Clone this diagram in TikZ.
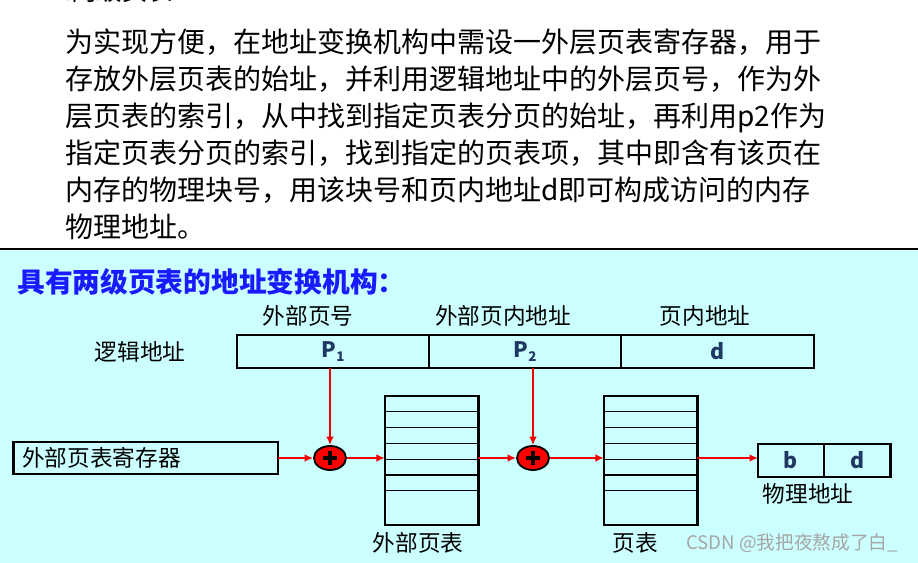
\documentclass[tikz,border=0pt]{standalone}
\usepackage{fontspec}
\setmainfont{Noto Sans CJK SC}
\usepackage{tikz}
\usetikzlibrary{arrows.meta,positioning,shapes.geometric}
\definecolor{panel}{RGB}{204,255,255}
\definecolor{heading}{RGB}{26,26,255}
\definecolor{field}{RGB}{31,56,100}
\definecolor{link}{RGB}{240,0,0}
\definecolor{mark}{RGB}{165,165,165}
\newcommand{\sub}[1]{\raisebox{-0.3ex}{\fontsize{10}{10}\selectfont #1}}

\begin{document}
\begin{tikzpicture}[x=0.75pt, y=-0.75pt,
  cell/.style={draw, line width=2pt, inner sep=0pt, outer sep=0pt,
               minimum height=24.75pt, font=\fontsize{16}{16}\selectfont\bfseries, text=field},
  ptable/.style={draw, line width=2pt, inner sep=0pt, outer sep=0pt,
                 minimum width=70pt, minimum height=96.75pt},
  row/.style={line width=1pt},
  adder/.style={ellipse, draw, line width=1.4pt, fill=red, minimum width=24pt,
                minimum height=18pt, inner sep=0pt},
  arrow/.style={-{Latex[length=2.2mm, width=2mm]}, line width=1.4pt, color=link},
  lbl/.style={font=\fontsize{17}{17}\selectfont, inner sep=0pt}]
  \useasboundingbox (0,0) rectangle (918,563);
  \fill[white] (0,0) rectangle (918,250);
  \fill[panel] (0,250) rectangle (918,563);
  \draw[line width=1.5pt] (0,249) -- (918,249);
  % cut-off heading at the top edge
  \begin{scope}
    \clip (0,0) rectangle (918,8);
    \node[anchor=west, inner sep=0pt, font=\fontsize{19}{19}\selectfont] (sec) at (50,-9) {2.两级页表};
  \end{scope}
  \node[anchor=north west, align=left, inner sep=0pt, font=\fontsize{21}{27.75}\selectfont] (txt) at (65,28)
    {为实现方便，在地址变换机构中需设一外层页表寄存器，用于\\
     存放外层页表的始址，并利用逻辑地址中的外层页号，作为外\\
     层页表的索引，从中找到指定页表分页的始址，再利用p2作为\\
     指定页表分页的索引，找到指定的页表项，其中即含有该页在\\
     内存的物理块号，用该块号和页内地址d即可构成访问的内存\\
     物理地址。};
  \node[anchor=west, inner sep=0pt, font=\fontsize{20.8}{20.8}\selectfont\bfseries, text=heading] (title) at (17,282)
    {具有两级页表的地址变换机构：};

  % logical address
  \node[cell, minimum width=144pt] (p1) at (333,351.5) {P\sub{1}};
  \node[cell, minimum width=144pt, right=0pt of p1] (p2) {P\sub{2}};
  \node[cell, minimum width=144.75pt, right=0pt of p2] (d) {d};
  \node[lbl] (la) at (140,352) {逻辑地址};
  \node[lbl] (f1) at (308,316) {外部页号};
  \node[lbl] (f2) at (503,316) {外部页内地址};
  \node[lbl] (f3) at (705,316) {页内地址};

  % register, adders, tables
  \node[draw, line width=2pt, outer sep=0pt, minimum height=24pt, text width=185pt, inner xsep=6.75pt,
        inner ysep=0pt, align=left, font=\fontsize{17}{17}\selectfont] (reg) at (145.5,458) {外部页表寄存器};
  \node[adder] (c1) at (330,458) {};
  \node[ptable] (ot) at (431.5,460.5) {};
  \node[adder] (c2) at (533,458) {};
  \node[ptable] (pt) at (650.5,460.5) {};
  \foreach \t in {ot,pt}
    \foreach \k in {1,...,6}
      \draw[row] ([yshift=-\k*11.85pt]\t.north west) -- ([yshift=-\k*11.85pt]\t.north east);
  \foreach \n in {c1,c2}
    \draw[line width=2.4pt] ([xshift=-5pt]\n.center) -- ([xshift=5pt]\n.center)
                            ([yshift=-5pt]\n.center) -- ([yshift=5pt]\n.center);
  \node[lbl] (otl) at (418,543) {外部页表};
  \node[lbl] (ptl) at (635,543) {页表};

  % physical address
  \node[cell, minimum width=49.5pt] (pb) at (791,460.5) {b};
  \node[cell, minimum width=50pt, right=0pt of pb] (pd) {d};
  \node[lbl] (pa) at (808,494) {物理地址};
  \node[inner sep=0pt, font=\fontsize{14}{14}\selectfont, text=mark] (wm) at (792,543) {CSDN @我把夜熬成了白\_};

  \draw[arrow] (c1 |- p1.south) -- (c1.north);
  \draw[arrow] (reg.east) -- (c1.west);
  \draw[arrow] (c1.east) -- (c1 -| ot.west);
  \draw[arrow] (c1 -| ot.east) -- (c2.west);
  \draw[arrow] (c2 |- p2.south) -- (c2.north);
  \draw[arrow] (c2.east) -- (c2 -| pt.west);
  \draw[arrow] (c2 -| pt.east) -- (c2 -| pb.west);
\end{tikzpicture}
\end{document}
